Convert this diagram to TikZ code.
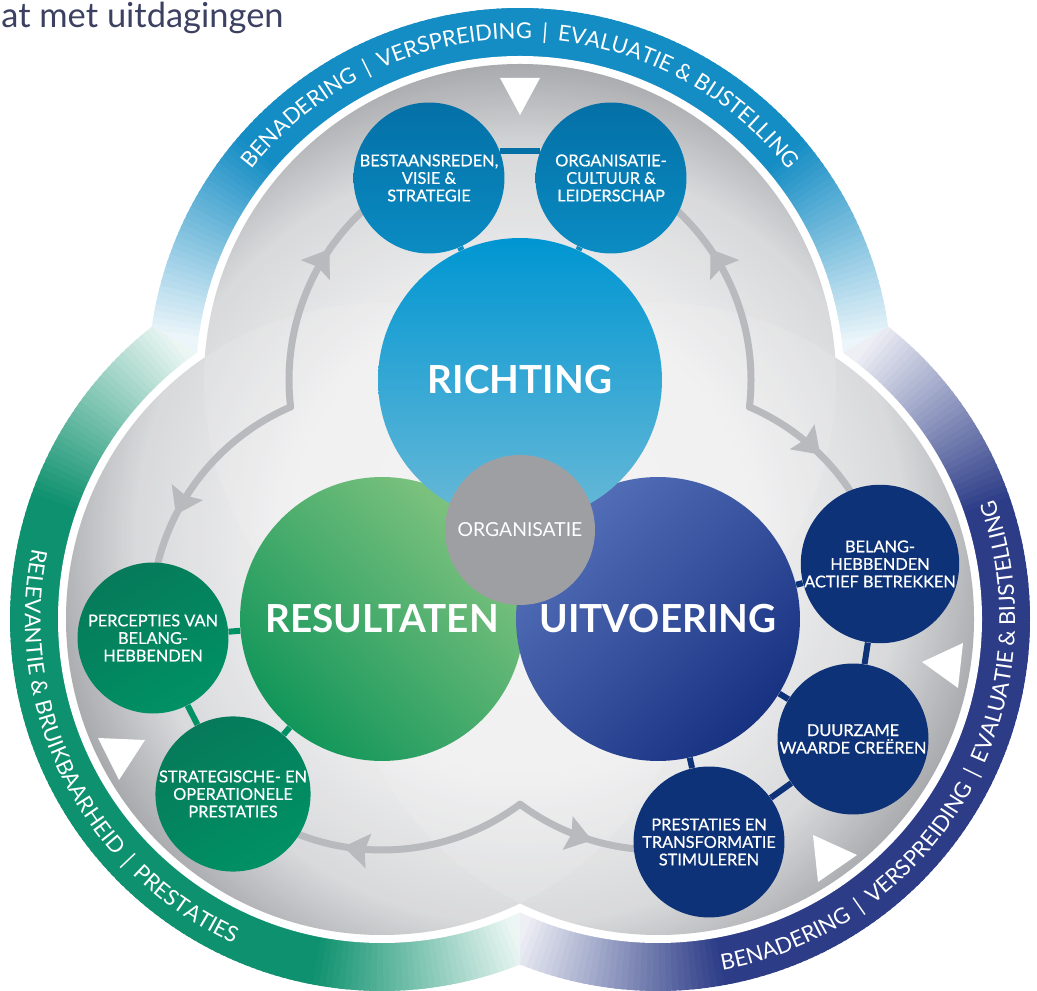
\documentclass[tikz,border=0pt]{standalone}
\usepackage{fontspec}
\setmainfont{Lato}
\newfontfamily\labelfont{Lato}[FakeBold=0.6]
\usepackage{tikz}
\usetikzlibrary{calc}
\usetikzlibrary{arrows.meta}
\usetikzlibrary{positioning}
\usetikzlibrary{decorations.text}
\usetikzlibrary{decorations.markings}
\definecolor{bandblue}{RGB}{20, 140, 196}
\definecolor{bandgreen}{RGB}{14, 145, 110}
\definecolor{bandnavy}{RGB}{44, 60, 135}
\definecolor{discin}{RGB}{238, 238, 239}
\definecolor{discmid}{RGB}{212, 213, 215}
\definecolor{discout}{RGB}{155, 156, 160}
\definecolor{flowgrey}{RGB}{185, 186, 190}
\definecolor{richtop}{RGB}{0, 150, 210}
\definecolor{richbot}{RGB}{105, 185, 215}
\definecolor{reslight}{RGB}{130, 196, 128}
\definecolor{resdark}{RGB}{18, 150, 90}
\definecolor{uitlight}{RGB}{85, 112, 185}
\definecolor{uitdark}{RGB}{24, 50, 130}
\definecolor{orggrey}{RGB}{158, 159, 163}
\definecolor{smallbluetop}{RGB}{4, 112, 166}
\definecolor{smallbluebot}{RGB}{10, 140, 195}
\definecolor{smallgreentop}{RGB}{6, 122, 90}
\definecolor{smallgreenbot}{RGB}{0, 145, 100}
\definecolor{smallnavy}{RGB}{14, 50, 120}
\definecolor{headgrey}{RGB}{60, 65, 98}

\pgfdeclareradialshading{discshade}{\pgfpoint{0bp}{0bp}}{color(0bp)=(discin); color(12bp)=(discin); color(20bp)=(discmid); color(25bp)=(discout); color(50bp)=(discout)}

\newcommand{\bandfont}{\fontsize{12.5}{13}\selectfont}

\tikzset{
  bigdisc/.style={circle, minimum size=5.68cm, inner sep=0pt, text=white, font=\fontsize{22}{24}\selectfont\bfseries},
  smalldisc/.style={circle, minimum size=3.02cm, inner sep=0pt, text=white, align=center, font=\labelfont\fontsize{9.3}{10}\selectfont},
  linkbar/.style={line width=0.12cm},
  flowline/.style={draw=flowgrey, line width=0.14cm, line cap=round,
    decoration={markings, mark=at position #1 with {\arrow{Stealth[length=0.5cm, width=0.68cm, inset=0.07cm]}}},
    postaction={decorate}},
  bandtext/.style={decorate, decoration={text along path, text format delimiters={[}{]}, text align=center, text={#1}}}
}

\begin{document}
\begin{tikzpicture}[x=0.02cm, y=0.02cm]
    \useasboundingbox (0,0) rectangle (1037,990);
    % Lobe centres
    \coordinate (lobetop)   at (520,610);
    \coordinate (lobeleft)  at (382,371);
    \coordinate (loberight) at (658,371);
    \coordinate (centre)    at (520,450.7);

    % Blue band
    \begin{scope}
        \clip (centre) -- ($(centre)+(30:900)$) -- ($(centre)+(90:900)$) -- ($(centre)+(150:900)$) -- cycle;
        \foreach \a in {0,1,...,180} {
            \pgfmathsetmacro{\bandpc}{max(8,min(100,100*(1-(abs(\a-90)/82-0.6)/0.45)))}
            \pgfmathsetmacro{\bandsa}{\a-0.8}
            \pgfmathsetmacro{\bandea}{\a+0.8}
            \fill[bandblue!\bandpc!white] (lobetop) -- ++(\bandsa:372) arc[start angle=\bandsa, end angle=\bandea, radius=372] -- cycle;
        }
    \end{scope}
    % Green band
    \begin{scope}
        \clip (centre) -- ($(centre)+(150:900)$) -- ($(centre)+(210:900)$) -- ($(centre)+(270:900)$) -- cycle;
        \foreach \a in {120,121,...,300} {
            \pgfmathsetmacro{\bandpc}{max(8,min(100,100*(1-(abs(\a-210)/82-0.6)/0.45)))}
            \pgfmathsetmacro{\bandsa}{\a-0.8}
            \pgfmathsetmacro{\bandea}{\a+0.8}
            \fill[bandgreen!\bandpc!white] (lobeleft) -- ++(\bandsa:372) arc[start angle=\bandsa, end angle=\bandea, radius=372] -- cycle;
        }
    \end{scope}
    % Navy band
    \begin{scope}
        \clip (centre) -- ($(centre)+(270:900)$) -- ($(centre)+(330:900)$) -- ($(centre)+(30:900)$) -- cycle;
        \foreach \a in {240,241,...,420} {
            \pgfmathsetmacro{\bandpc}{max(8,min(100,100*(1-(abs(\a-330)/82-0.6)/0.45)))}
            \pgfmathsetmacro{\bandsa}{\a-0.8}
            \pgfmathsetmacro{\bandea}{\a+0.8}
            \fill[bandnavy!\bandpc!white] (loberight) -- ++(\bandsa:372) arc[start angle=\bandsa, end angle=\bandea, radius=372] -- cycle;
        }
    \end{scope}

    % White gap and grey discs
    \fill[white] (lobetop) circle (324) (lobeleft) circle (324) (loberight) circle (324);
    \begin{scope}
        \clip (lobetop) circle (316) (lobeleft) circle (316) (loberight) circle (316);
        \shade[shading=discshade] (centre) circle (480);
        \fill[white, fill opacity=0.12] (lobetop) circle (316);
        \fill[white, fill opacity=0.12] (lobeleft) circle (316);
        \fill[white, fill opacity=0.12] (loberight) circle (316);
    \end{scope}

    % White markers
    \fill[white] (500,912) -- (540,912) -- (520,875) -- cycle;
    \fill[white] (98,252) -- (145,250) -- (119,210) -- cycle;
    \fill[white] (922,328) -- (963,347) -- (958,302) -- cycle;
    \fill[white] (857,135) -- (813,155) -- (818,108) -- cycle;

    % Band texts
    \path[bandtext={[\bandfont\color{white}]BENADERING {\kern.2em}|{\kern.2em} VERSPREIDING {\kern.2em}|{\kern.2em} EVALUATIE {\&} BIJSTELLING}]
        (lobetop) ++(170:341) arc[start angle=170, end angle=10, radius=341];
    \path[bandtext={[\bandfont\color{white}]RELEVANTIE {\&} BRUIKBAARHEID {\kern.2em}|{\kern.2em} PRESTATIES}]
        (lobeleft) ++(117:357) arc[start angle=117, end angle=297, radius=357];
    \path[bandtext={[\bandfont\color{white}]BENADERING {\kern.2em}|{\kern.2em} VERSPREIDING {\kern.2em}|{\kern.2em} EVALUATIE {\&} BIJSTELLING}]
        (loberight) ++(240:357) arc[start angle=240, end angle=420, radius=357];

    % Grey flow arrows
    \coordinate (kinkTL) at ($(lobetop)+(186.7:231)$);
    \coordinate (kinkTR) at ($(lobetop)+(-6.7:231)$);
    \coordinate (kinkB)  at ($(lobeleft)+(-53.3:231)$);
    \draw[flowline=0.6]  (kinkTL) arc[start angle=186.7, end angle=118, radius=231];
    \draw[flowline=0.58] (kinkTL) arc[start angle=113.3, end angle=182, radius=231];
    \draw[flowline=0.62] (kinkB)  arc[start angle=306.7, end angle=232, radius=231];
    \draw[flowline=0.43] (kinkB)  arc[start angle=233.3, end angle=280, radius=231];
    \draw[flowline=0.42] (kinkTR) arc[start angle=66.7, end angle=16, radius=231];
    \draw[flowline=0.6]  (kinkTR) arc[start angle=-6.7, end angle=62, radius=231];

    % Main discs
    \node[bigdisc, top color=reslight, bottom color=resdark, shading angle=-45] (resultaten) at (lobeleft) {RESULTATEN};
    \node[bigdisc, top color=uitlight, bottom color=uitdark, shading angle=45] (uitvoering) at (loberight) {UITVOERING};
    \node[bigdisc, top color=richtop, bottom color=richbot] (richting) at (lobetop) {RICHTING};
    \node[circle, fill=orggrey, minimum size=3cm, inner sep=0pt, text=white, font=\fontsize{11}{12}\selectfont] (organisatie) at (520,460) {ORGANISATIE};

    % Small discs
    \node[smalldisc, top color=smallbluetop, bottom color=smallbluebot] (bestaan) at (429,812) {BESTAANSREDEN,\\VISIE \&\\STRATEGIE};
    \node[smalldisc, top color=smallbluetop, bottom color=smallbluebot] (cultuur) at (611,812) {ORGANISATIE-\\CULTUUR \&\\LEIDERSCHAP};
    \node[smalldisc, top color=smallgreentop, bottom color=smallgreenbot, shading angle=30] (percep) at (153,352) {PERCEPTIES VAN\\BELANG-\\HEBBENDEN};
    \node[smalldisc, top color=smallgreentop, bottom color=smallgreenbot, shading angle=30] (strateg) at (233,196) {STRATEGISCHE- EN\\OPERATIONELE\\PRESTATIES};
    \node[smalldisc, fill=smallnavy] (belang) at (880,426) {BELANG-\\HEBBENDEN\\ACTIEF BETREKKEN};
    \node[smalldisc, fill=smallnavy] (duurz) at (853,251) {DUURZAME\\WAARDE CREËREN};
    \node[smalldisc, fill=smallnavy] (prestat) at (709,148) {PRESTATIES EN\\TRANSFORMATIE\\STIMULEREN};

    % Links
    \draw[linkbar, smallbluetop] (bestaan.21) -- (cultuur.159);
    \draw[linkbar, smallbluebot] (bestaan) -- (richting);
    \draw[linkbar, smallbluebot] (cultuur) -- (richting);
    \draw[linkbar, smallgreenbot] (percep) -- (resultaten);
    \draw[linkbar, smallgreenbot] (strateg) -- (resultaten);
    \draw[linkbar, smallgreenbot] (percep) -- (strateg);
    \draw[linkbar, smallnavy] (belang) -- (uitvoering);
    \draw[linkbar, smallnavy] (duurz) -- (uitvoering);
    \draw[linkbar, smallnavy] (prestat) -- (uitvoering);
    \draw[linkbar, smallnavy] (belang) -- (duurz);
    \draw[linkbar, smallnavy] (duurz) -- (prestat);

    % Heading
    \node[anchor=base west, inner sep=0pt, text=headgrey, font=\fontsize{19.6}{21}\selectfont] (kop) at (1,962) {at met uitdagingen};
\end{tikzpicture}
\end{document}
